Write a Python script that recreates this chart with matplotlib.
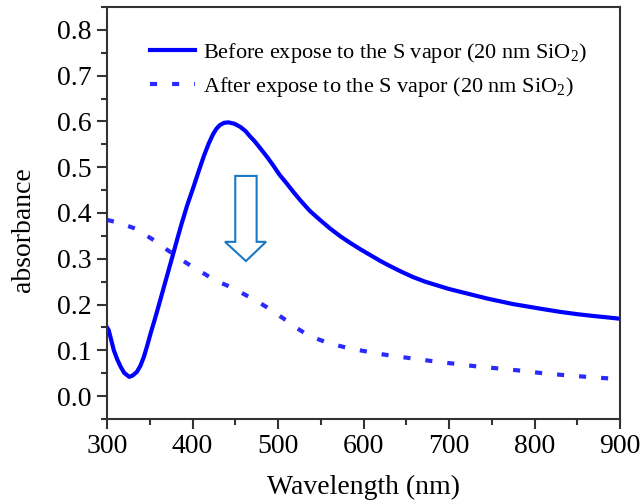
import matplotlib
matplotlib.use('Agg')
import matplotlib.pyplot as plt
from matplotlib.patches import Polygon
from matplotlib.ticker import MultipleLocator

plt.rcParams['font.family'] = ['Liberation Serif', 'DejaVu Serif']
plt.rcParams['mathtext.fontset'] = 'custom'
plt.rcParams['mathtext.rm'] = 'Liberation Serif'

# Absorbance before exposure (solid)
wl_before = [300, 302, 305, 308, 312, 316, 320, 326, 330, 335, 339, 343, 347,
             351, 355, 359, 365, 371, 377, 382, 387, 394, 401, 407, 413, 419,
             424, 428, 432, 437, 442, 449, 456, 462, 467, 473, 479, 487, 494,
             502, 510, 518, 526, 537, 549, 561, 573, 585, 597, 608, 619, 630,
             644, 658, 672, 686, 700, 715, 730, 745, 760, 775, 791, 810, 830,
             850, 869, 885, 900]
abs_before = [0.150, 0.144, 0.122, 0.100, 0.080, 0.064, 0.051, 0.042, 0.045,
              0.053, 0.066, 0.085, 0.110, 0.137, 0.162, 0.188, 0.228, 0.268,
              0.308, 0.342, 0.375, 0.418, 0.456, 0.490, 0.523, 0.552, 0.572,
              0.584, 0.592, 0.597, 0.598, 0.595, 0.588, 0.579, 0.568, 0.556,
              0.542, 0.523, 0.505, 0.483, 0.465, 0.446, 0.428, 0.405, 0.385,
              0.366, 0.349, 0.334, 0.320, 0.308, 0.296, 0.285, 0.272, 0.260,
              0.250, 0.242, 0.234, 0.227, 0.220, 0.213, 0.207, 0.201, 0.196,
              0.190, 0.184, 0.179, 0.175, 0.172, 0.169]

# Absorbance after exposure (dashed)
wl_after = [300, 315, 333, 345, 358, 370, 381, 392, 403, 415, 426, 440, 452,
            463, 475, 487, 498, 510, 520, 531, 543, 556, 569, 582, 596, 623,
            650, 678, 705, 732, 760, 787, 814, 841, 869, 900]
abs_after = [0.385, 0.378, 0.366, 0.352, 0.337, 0.320, 0.306, 0.292, 0.279,
             0.266, 0.253, 0.242, 0.231, 0.220, 0.208, 0.194, 0.180, 0.165,
             0.151, 0.138, 0.127, 0.118, 0.111, 0.105, 0.100, 0.091, 0.084,
             0.077, 0.071, 0.065, 0.060, 0.055, 0.049, 0.045, 0.041, 0.037]

labels = [r'Before expose to the S vapor (20 nm SiO$_2$)',
          r'After expose to the S vapor (20 nm SiO$_2$)']

fig = plt.figure(figsize=(6.4, 5.03), dpi=100)
ax = fig.add_axes([107 / 640, 1 - 419 / 503, 513 / 640, 412 / 503])

ax.plot(wl_before, abs_before, color='#0000ff', lw=3, label=labels[0])
ax.plot(wl_after, abs_after, color='#2a2aff', lw=3, dashes=(1.7, 3.6),
        label=labels[1])

# hollow arrow marking the drop
arrow = Polygon([(450, 0.481), (475, 0.481), (475, 0.337), (486, 0.337),
                 (462.5, 0.295), (438, 0.337), (450, 0.337)],
                closed=True, facecolor='white', edgecolor='#1a78c2', lw=1.5)
ax.add_patch(arrow)

ax.set_xlim(300, 900)
ax.set_ylim(-0.05, 0.85)
ax.xaxis.set_major_locator(MultipleLocator(100))
ax.xaxis.set_minor_locator(MultipleLocator(50))
ax.yaxis.set_minor_locator(MultipleLocator(0.05))
ax.set_yticks([0.0, 0.1, 0.2, 0.3, 0.4, 0.5, 0.6, 0.7, 0.8])

for s in ax.spines.values():
    s.set_linewidth(1.5)
    s.set_color('#333333')
ax.tick_params(which='major', direction='out', length=7, width=1.5,
               color='#333333', labelsize=20, pad=4)
ax.tick_params(which='minor', direction='out', length=4, width=1.5,
               color='#333333')

ax.set_xlabel('Wavelength (nm)', fontsize=20)
ax.set_ylabel('absorbance', fontsize=20)
ax.xaxis.set_label_coords(0.5, -0.135)
ax.yaxis.set_label_coords(-0.138, 0.46)

ax.legend(loc='upper left', bbox_to_anchor=(0.084, 0.918), frameon=False,
          fontsize=16, handlelength=2.0, handletextpad=0.36, labelspacing=0.45,
          borderpad=0, borderaxespad=0)

fig.savefig('out.png', dpi=100)
